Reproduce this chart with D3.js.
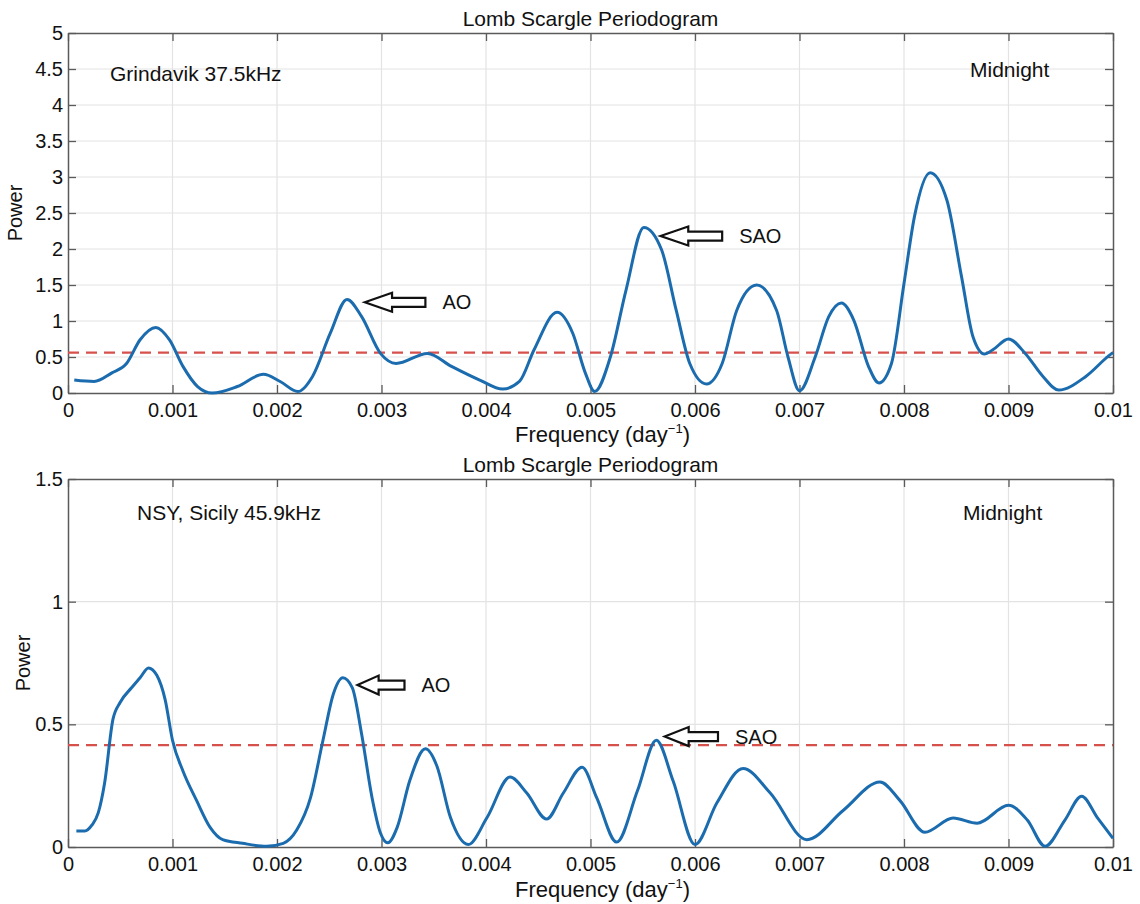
<!DOCTYPE html>
<html>
<head>
<meta charset="utf-8">
<script src="https://cdn.jsdelivr.net/npm/d3@7"></script>
<style>
  body { margin: 0; background: #fff; }
  svg { font-family: "Liberation Sans", Arial, sans-serif; }
</style>
</head>
<body>
<svg id="chart"></svg>
<script>
var WIDTH = 1140;
var HEIGHT = 904;

// frequency ticks shared by both panels
var xTicks = [0, 0.001, 0.002, 0.003, 0.004, 0.005, 0.006, 0.007, 0.008, 0.009, 0.01];

// top panel: Grindavik 37.5kHz
var topFreq = [0.00006, 0.00025, 0.00042, 0.00056, 0.00069, 0.00084, 0.00097, 0.0011, 0.00124, 0.00138,
  0.00162, 0.00187, 0.00203, 0.0022, 0.00234, 0.00251, 0.00267, 0.00281, 0.00299, 0.00314,
  0.00344, 0.00367, 0.00394, 0.00416, 0.00432, 0.00446, 0.00468, 0.00483, 0.00495, 0.00504,
  0.00519, 0.00534, 0.00551, 0.00568, 0.00582, 0.00595, 0.00611, 0.00626, 0.0064, 0.00659,
  0.00678, 0.00689, 0.007, 0.00715, 0.00728, 0.0074, 0.00752, 0.00766, 0.00776, 0.00788,
  0.008, 0.0081, 0.00825, 0.00841, 0.00855, 0.00866, 0.00877, 0.00885, 0.009, 0.00916,
  0.00933, 0.00948, 0.00974, 0.00998, 0.01];
var topPower = [0.18, 0.16, 0.28, 0.41, 0.74, 0.91, 0.74, 0.37, 0.09, 0.0,
  0.09, 0.26, 0.16, 0.02, 0.23, 0.83, 1.3, 1.06, 0.55, 0.41,
  0.55, 0.37, 0.18, 0.055, 0.16, 0.6, 1.12, 0.83, 0.28, 0.02,
  0.5, 1.43, 2.3, 1.99, 1.15, 0.41, 0.125, 0.41, 1.15, 1.5,
  1.15, 0.5, 0.03, 0.5, 1.06, 1.25, 1.01, 0.37, 0.14, 0.41,
  1.52, 2.45, 3.06, 2.68, 1.62, 0.78, 0.54, 0.6, 0.75, 0.55,
  0.23, 0.04, 0.23, 0.54, 0.56];
var topThreshold = 0.56;
var topYTicks = [0, 0.5, 1, 1.5, 2, 2.5, 3, 3.5, 4, 4.5, 5];

// bottom panel: NSY, Sicily 45.9kHz
var botFreq = [0.00008, 0.00016, 0.00023, 0.00029, 0.00035, 0.00043, 0.0005, 0.00061, 0.00069, 0.00077,
  0.00085, 0.00093, 0.001, 0.0011, 0.00123, 0.00136, 0.00148, 0.00167, 0.0019, 0.00206,
  0.00219, 0.00232, 0.00244, 0.00254, 0.00263, 0.00272, 0.00281, 0.00291, 0.00299, 0.00306,
  0.00315, 0.00327, 0.00342, 0.00353, 0.00366, 0.00383, 0.00401, 0.00423, 0.00439, 0.00458,
  0.00474, 0.00492, 0.00506, 0.00525, 0.00545, 0.00563, 0.00579, 0.006, 0.00621, 0.00646,
  0.00672, 0.00707, 0.00742, 0.00777, 0.00796, 0.0082, 0.00847, 0.0087, 0.009, 0.00918,
  0.00935, 0.00954, 0.0097, 0.00985, 0.01];
var botPower = [0.065, 0.065, 0.09, 0.14, 0.26, 0.52, 0.59, 0.65, 0.69, 0.73,
  0.70, 0.60, 0.435, 0.31, 0.19, 0.08, 0.03, 0.015, 0.003, 0.015,
  0.07, 0.2, 0.435, 0.625, 0.69, 0.65, 0.46, 0.2, 0.057, 0.017,
  0.08, 0.27, 0.40, 0.33, 0.12, 0.01, 0.12, 0.285, 0.22, 0.114,
  0.22, 0.325, 0.2, 0.02, 0.23, 0.435, 0.27, 0.01, 0.18, 0.32,
  0.22, 0.03, 0.15, 0.265, 0.19, 0.06, 0.118, 0.097, 0.17, 0.11,
  0.003, 0.11, 0.207, 0.12, 0.035];
var botThreshold = 0.415;
var botYTicks = [0, 0.5, 1, 1.5];

// arrows: tip frequency, tail frequency, power level, label
var topArrows = [
  { tip: 0.00284, tail: 0.00342, p: 1.26, label: 'AO' },
  { tip: 0.00567, tail: 0.00626, p: 2.18, label: 'SAO' }
];
var botArrows = [
  { tip: 0.00277, tail: 0.00322, p: 0.66, label: 'AO' },
  { tip: 0.00571, tail: 0.00622, p: 0.45, label: 'SAO' }
];

var panels = [
  { top: 33, bottom: 393, ymax: 5, yTicks: topYTicks, freq: topFreq, power: topPower,
    thr: topThreshold, arrows: topArrows, station: 'Grindavik 37.5kHz', stationX: 110, textY: 74,
    midX: 970, midY: 70, titleY: 26, xlabY: 442, ylabX: 22 },
  { top: 479, bottom: 847, ymax: 1.5, yTicks: botYTicks, freq: botFreq, power: botPower,
    thr: botThreshold, arrows: botArrows, station: 'NSY, Sicily 45.9kHz', stationX: 137, textY: 513,
    midX: 963, midY: 513, titleY: 472, xlabY: 897, ylabX: 30 }
];

var LEFT = 68, RIGHT = 1113;
var AXIS_COLOR = '#5a5a5a';
var GRID_COLOR = '#e3e3e3';
var LINE_COLOR = '#1b6cae';
var DASH_COLOR = '#d6504c';

var svg = d3.select('#chart').attr('width', WIDTH).attr('height', HEIGHT);

var xScale = d3.scaleLinear().domain([0, 0.01]).range([LEFT, RIGHT]);
var fmt = function(d){ return d === 0 ? '0' : String(+d.toFixed(3)); };

panels.forEach(function(pn){
  var yScale = d3.scaleLinear().domain([0, pn.ymax]).range([pn.bottom, pn.top]);
  var g = svg.append('g');

  // grid
  g.append('g').selectAll('line').data(xTicks.slice(1, -1)).enter().append('line')
    .attr('x1', function(d){ return xScale(d); }).attr('x2', function(d){ return xScale(d); })
    .attr('y1', pn.top).attr('y2', pn.bottom)
    .attr('stroke', GRID_COLOR).attr('stroke-width', 1.2);
  g.append('g').selectAll('line').data(pn.yTicks.slice(1, -1)).enter().append('line')
    .attr('y1', function(d){ return yScale(d); }).attr('y2', function(d){ return yScale(d); })
    .attr('x1', LEFT).attr('x2', RIGHT)
    .attr('stroke', GRID_COLOR).attr('stroke-width', 1.2);

  // axes, ticks pointing inward
  var bot = g.append('g').attr('transform', 'translate(0,' + pn.bottom + ')')
    .call(d3.axisBottom(xScale).tickValues(xTicks).tickFormat(fmt).tickSizeInner(-8).tickSizeOuter(0).tickPadding(10));
  var topAx = g.append('g').attr('transform', 'translate(0,' + pn.top + ')')
    .call(d3.axisTop(xScale).tickValues(xTicks).tickFormat('').tickSizeInner(-8).tickSizeOuter(0));
  var left = g.append('g').attr('transform', 'translate(' + LEFT + ',0)')
    .call(d3.axisLeft(yScale).tickValues(pn.yTicks).tickFormat(function(d){ return String(d); }).tickSizeInner(-8).tickSizeOuter(0).tickPadding(5));
  var right = g.append('g').attr('transform', 'translate(' + RIGHT + ',0)')
    .call(d3.axisRight(yScale).tickValues(pn.yTicks).tickFormat('').tickSizeInner(-8).tickSizeOuter(0));

  [bot, topAx, left, right].forEach(function(a){
    a.select('.domain').attr('stroke', AXIS_COLOR).attr('stroke-width', 1.5);
    a.selectAll('.tick line').attr('stroke', AXIS_COLOR).attr('stroke-width', 1.3);
    a.selectAll('text').attr('fill', '#111').attr('font-size', 20).attr('font-family', '"Liberation Sans", Arial, sans-serif');
  });

  // threshold
  g.append('line')
    .attr('x1', LEFT).attr('x2', RIGHT)
    .attr('y1', yScale(pn.thr)).attr('y2', yScale(pn.thr))
    .attr('stroke', DASH_COLOR).attr('stroke-width', 2.2).attr('stroke-dasharray', '11,7');

  // periodogram curve
  var pts = pn.freq.map(function(f, i){ return [f, pn.power[i]]; });
  var line = d3.line()
    .x(function(d){ return xScale(d[0]); })
    .y(function(d){ return yScale(d[1]); })
    .curve(d3.curveMonotoneX);
  g.append('path').datum(pts)
    .attr('d', line).attr('fill', 'none')
    .attr('stroke', LINE_COLOR).attr('stroke-width', 3).attr('stroke-linejoin', 'round');

  // arrows
  pn.arrows.forEach(function(a){
    var x0 = xScale(a.tip), x1 = xScale(a.tail), y = yScale(a.p);
    var hl = (x1 - x0) * 0.45, hh = 9.5, sh = 4.5;
    var d = 'M' + x0 + ',' + y +
      'L' + (x0 + hl) + ',' + (y - hh) +
      'L' + (x0 + hl) + ',' + (y - sh) +
      'L' + x1 + ',' + (y - sh) +
      'L' + x1 + ',' + (y + sh) +
      'L' + (x0 + hl) + ',' + (y + sh) +
      'L' + (x0 + hl) + ',' + (y + hh) + 'Z';
    g.append('path').attr('d', d).attr('fill', '#fff').attr('stroke', '#111').attr('stroke-width', 2.2);
    g.append('text').attr('x', x1 + 17).attr('y', y).attr('dy', '0.35em')
      .attr('font-size', 20).attr('fill', '#111').text(a.label);
  });

  // text labels
  g.append('text').attr('x', pn.stationX).attr('y', pn.textY).attr('dy', '0.35em')
    .attr('font-size', 21).attr('fill', '#111').text(pn.station);
  g.append('text').attr('x', pn.midX).attr('y', pn.midY).attr('dy', '0.35em')
    .attr('font-size', 21).attr('fill', '#111').text('Midnight');

  g.append('text').attr('x', (LEFT + RIGHT) / 2).attr('y', pn.titleY)
    .attr('text-anchor', 'middle').attr('font-size', 21).attr('fill', '#111')
    .text('Lomb Scargle Periodogram');

  var xl = g.append('text').attr('x', (LEFT + RIGHT) / 2 + 12).attr('y', pn.xlabY)
    .attr('text-anchor', 'middle').attr('font-size', 22).attr('fill', '#111');
  xl.append('tspan').text('Frequency (day');
  xl.append('tspan').attr('dy', -9).attr('font-size', 13).text('\u22121');
  xl.append('tspan').attr('dy', 9).text(')');

  g.append('text')
    .attr('transform', 'translate(' + pn.ylabX + ',' + ((pn.top + pn.bottom) / 2) + ') rotate(-90)')
    .attr('text-anchor', 'middle').attr('font-size', 20).attr('fill', '#111')
    .text('Power');
});
</script>
</body>
</html>
